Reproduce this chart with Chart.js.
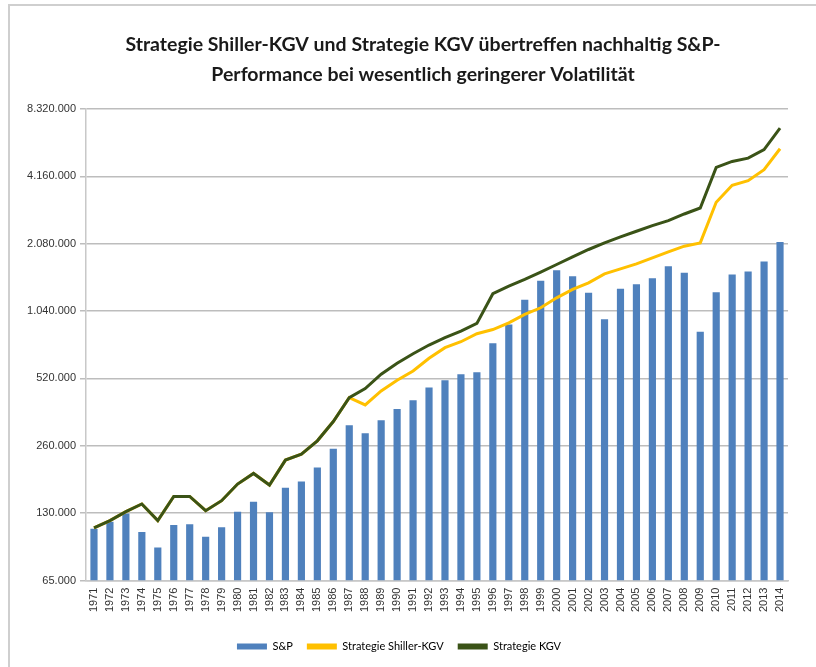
<!DOCTYPE html>
<html>
<head>
<meta charset="utf-8">
<script src="https://cdn.jsdelivr.net/npm/chart.js@4"></script>
<style>
  html, body { margin: 0; padding: 0; background: #fff; }
  #wrap { width: 816px; height: 667px; position: relative; }
</style>
</head>
<body>
<div id="wrap"><canvas id="perfChart" width="816" height="667"></canvas></div>
<script>
const years = ['1971','1972','1973','1974','1975','1976','1977','1978','1979','1980',
  '1981','1982','1983','1984','1985','1986','1987','1988','1989','1990',
  '1991','1992','1993','1994','1995','1996','1997','1998','1999','2000',
  '2001','2002','2003','2004','2005','2006','2007','2008','2009','2010',
  '2011','2012','2013','2014'];

// S&P (bars)
const spValues = [110600, 119000, 129700, 107100, 91200, 115100, 115900, 102100, 112400, 132000,
  146300, 131100, 168900, 180200, 208000, 252000, 321500, 296200, 338400, 380000,
  415600, 473300, 510400, 542900, 554000, 746000, 907000, 1168000, 1420000, 1584000,
  1490000, 1256000, 955000, 1309000, 1372000, 1459000, 1651000, 1542000, 841000, 1264000,
  1516000, 1563000, 1732000, 2119000];

// Strategie KGV (green line)
const kgvValues = [111700, 120400, 132000, 142900, 120400, 154500, 154500, 133400, 147800, 175400,
  195700, 173600, 224500, 238700, 273700, 333700, 427000, 468200, 543000, 607800,
  670800, 733300, 791000, 847000, 916000, 1243000, 1344000, 1440000, 1552000, 1680000,
  1817000, 1960000, 2098000, 2231000, 2365000, 2506000, 2639000, 2825000, 3005000, 4563000,
  4851000, 5020000, 5474000, 6832000];

// Strategie Shiller-KGV (yellow line)
const shillerValues = [111700, 120400, 132000, 142900, 120400, 154500, 154500, 133400, 147800, 175400,
  195700, 173600, 224500, 238700, 273700, 333700, 427000, 396000, 457400, 510400,
  561500, 640000, 713500, 758700, 823700, 860000, 922000, 1005000, 1076000, 1192000,
  1299000, 1390000, 1526000, 1606000, 1691000, 1798000, 1912000, 2028000, 2098000, 3186000,
  3794000, 3980000, 4455000, 5527000];

const yTicks = [65000, 130000, 260000, 520000, 1040000, 2080000, 4160000, 8320000];

const titleLines = ['Strategie Shiller-KGV und Strategie KGV übertreffen nachhaltig S&P-',
  'Performance bei wesentlich geringerer Volatilität'];

// thin frame and the two-line title, centred like the original
const framePlugin = {
  id: 'frame',
  beforeDraw(chart) {
    const c = chart.ctx;
    c.save();
    c.strokeStyle = '#cfcfcf';
    c.lineWidth = 2;
    c.beginPath();
    c.moveTo(9, 667);
    c.lineTo(9, 5);
    c.lineTo(816, 5);
    c.stroke();

    c.fillStyle = '#1a1a1a';
    c.font = 'bold 19.5px Lato';
    c.textAlign = 'center';
    c.textBaseline = 'middle';
    c.fillText(titleLines[0], 423, 45);
    c.fillText(titleLines[1], 423, 75);
    c.restore();
  }
};

const ctx = document.getElementById('perfChart').getContext('2d');

new Chart(ctx, {
  type: 'bar',
  data: {
    labels: years,
    datasets: [
      {
        type: 'line',
        label: 'Strategie KGV',
        data: kgvValues,
        borderColor: '#3a5317',
        backgroundColor: '#3a5317',
        borderWidth: 3,
        pointRadius: 0,
        tension: 0,
        order: 0
      },
      {
        type: 'line',
        label: 'Strategie Shiller-KGV',
        data: shillerValues,
        borderColor: '#ffc000',
        backgroundColor: '#ffc000',
        borderWidth: 3,
        pointRadius: 0,
        tension: 0,
        order: 1
      },
      {
        label: 'S&P',
        data: spValues,
        backgroundColor: '#4f81bd',
        barPercentage: 0.45,
        categoryPercentage: 1.0,
        order: 2
      }
    ]
  },
  options: {
    responsive: false,
    animation: false,
    layout: { padding: { left: 10, right: 28, top: 109, bottom: 5 } },
    plugins: {
      title: { display: false },
      legend: {
        position: 'bottom',
        labels: {
          color: '#333',
          font: { family: 'Lato', size: 11 },
          boxWidth: 30,
          boxHeight: 6,
          padding: 14,
          generateLabels: () => [
            { text: 'S&P', fillStyle: '#4f81bd', strokeStyle: '#4f81bd', lineWidth: 0 },
            { text: 'Strategie Shiller-KGV', fillStyle: '#ffc000', strokeStyle: '#ffc000', lineWidth: 0 },
            { text: 'Strategie KGV', fillStyle: '#3a5317', strokeStyle: '#3a5317', lineWidth: 0 }
          ]
        }
      },
      tooltip: { enabled: false }
    },
    scales: {
      x: {
        afterFit: scale => { scale.height += 13; },
        grid: { display: false, drawTicks: true, tickLength: 5 },
        border: { color: '#c8c8c8', width: 1.5 },
        ticks: {
          color: '#333',
          font: { family: 'Liberation Sans', size: 11 },
          minRotation: 90,
          maxRotation: 90,
          autoSkip: false,
          padding: 2
        }
      },
      y: {
        type: 'logarithmic',
        min: 65000,
        max: 8320000,
        afterBuildTicks: scale => {
          scale.ticks = yTicks.map(v => ({ value: v }));
        },
        afterFit: scale => { scale.width = 76; },
        grid: { color: '#bdbdbd', lineWidth: 1.5, tickLength: 6 },
        border: { color: '#c8c8c8', width: 1.5 },
        ticks: {
          color: '#333',
          font: { family: 'Liberation Sans', size: 11 },
          padding: 4,
          callback: v => Number(v).toLocaleString('de-DE')
        }
      }
    }
  },
  plugins: [framePlugin]
});
</script>
</body>
</html>
